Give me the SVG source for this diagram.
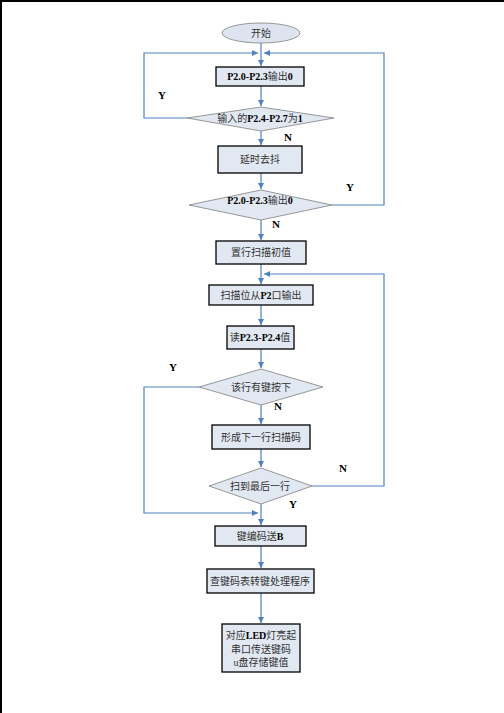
<svg xmlns="http://www.w3.org/2000/svg" width="504" height="713" viewBox="0 0 504 713">
<style>
.box{fill:#e2e8f2;stroke:#000;stroke-width:1.3}
.dia{fill:#e2e8f2;stroke:#7f7f7f;stroke-width:0.8}
.ell{fill:#dde4f0;stroke:#7f7f7f;stroke-width:0.8}
.t{font-family:"Liberation Serif","Noto Sans CJK SC",serif;font-size:10px;fill:#333;text-anchor:middle}
.b{font-weight:bold;fill:#000}
.lbl{font-family:"Liberation Serif",serif;font-size:11px;font-weight:bold;fill:#000;text-anchor:middle}
.c{fill:none;stroke:#4f81bd;stroke-width:1.2}
</style>
<defs>
<marker id="ah" markerWidth="8" markerHeight="8" refX="6" refY="3" orient="auto" markerUnits="userSpaceOnUse">
<path d="M0,0 L6,3 L0,6 Z" fill="#4f81bd"/>
</marker>
</defs>
<rect x="0" y="0" width="504" height="713" fill="#fff"/>
<path d="M1,713 V1 H504" fill="none" stroke="#000" stroke-width="2"/>
<g id="connectors">
<path class="c" d="M261,43 V66" marker-end="url(#ah)"/>
<path class="c" d="M261,86 V106" marker-end="url(#ah)"/>
<path class="c" d="M187,118 H144 V53 H258" marker-end="url(#ah)"/>
<path class="c" d="M261,131 V145" marker-end="url(#ah)"/>
<path class="c" d="M261,173 V189" marker-end="url(#ah)"/>
<path class="c" d="M332,205 H384 V53 H264" marker-end="url(#ah)"/>
<path class="c" d="M261,220 V240" marker-end="url(#ah)"/>
<path class="c" d="M261,264 V284" marker-end="url(#ah)"/>
<path class="c" d="M261,305 V325" marker-end="url(#ah)"/>
<path class="c" d="M261,349 V368" marker-end="url(#ah)"/>
<path class="c" d="M261,405 V424" marker-end="url(#ah)"/>
<path class="c" d="M261,449 V467" marker-end="url(#ah)"/>
<path class="c" d="M312,486 H384 V274 H264" marker-end="url(#ah)"/>
<path class="c" d="M199,387 H144 V513 H258" marker-end="url(#ah)"/>
<path class="c" d="M261,504 V525" marker-end="url(#ah)"/>
<path class="c" d="M261,546 V568" marker-end="url(#ah)"/>
<path class="c" d="M261,593 V623" marker-end="url(#ah)"/>
</g>
<g id="labels">
<text class="lbl" x="162" y="99">Y</text>
<text class="lbl" x="288" y="141">N</text>
<text class="lbl" x="350" y="191">Y</text>
<text class="lbl" x="276" y="228">N</text>
<text class="lbl" x="173" y="371">Y</text>
<text class="lbl" x="278" y="410">N</text>
<text class="lbl" x="343" y="472">N</text>
<text class="lbl" x="293" y="508">Y</text>
</g>
<g id="start">
<ellipse class="ell" cx="261" cy="33" rx="39" ry="10"/>
<text class="t" x="261" y="37">开始</text>
</g>
<g id="n1">
<rect class="box" x="216" y="67" width="88" height="19"/>
<text class="t" x="260" y="80"><tspan class="b">P2.0-P2.3</tspan>输出<tspan class="b">0</tspan></text>
</g>
<g id="d1">
<polygon class="dia" points="261,107 334,118 261,131 187,118"/>
<text class="t" x="260" y="122">输入的<tspan class="b">P2.4-P2.7</tspan>为<tspan class="b">1</tspan></text>
</g>
<g id="n2">
<rect class="box" x="218" y="146" width="84" height="27"/>
<text class="t" x="260" y="163">延时去抖</text>
</g>
<g id="d2">
<polygon class="dia" points="261,190 332,205 261,220 189,205"/>
<text class="t" x="260" y="204"><tspan class="b">P2.0-P2.3</tspan>输出<tspan class="b">0</tspan></text>
</g>
<g id="n3">
<rect class="box" x="216" y="241" width="90" height="23"/>
<text class="t" x="261" y="256">置行扫描初值</text>
</g>
<g id="n4">
<rect class="box" x="209" y="285" width="104" height="20"/>
<text class="t" x="261" y="299">扫描位从<tspan class="b">P2</tspan>口输出</text>
</g>
<g id="n5">
<rect class="box" x="227" y="326" width="67" height="23"/>
<text class="t" x="260" y="341">读<tspan class="b">P2.3-P2.4</tspan>值</text>
</g>
<g id="d3">
<polygon class="dia" points="261,369 323,387 261,405 199,387"/>
<text class="t" x="261" y="391">该行有键按下</text>
</g>
<g id="n6">
<rect class="box" x="212" y="425" width="98" height="24"/>
<text class="t" x="261" y="441">形成下一行扫描码</text>
</g>
<g id="d4">
<polygon class="dia" points="261,468 312,486 261,504 209,486"/>
<text class="t" x="260" y="490">扫到最后一行</text>
</g>
<g id="n7">
<rect class="box" x="215" y="526" width="91" height="20"/>
<text class="t" x="260" y="540">键编码送<tspan class="b">B</tspan></text>
</g>
<g id="n8">
<rect class="box" x="207" y="569" width="107" height="24"/>
<text class="t" x="260" y="585">查键码表转键处理程序</text>
</g>
<g id="n9">
<rect class="box" x="222" y="624" width="78" height="48"/>
<text class="t" x="261" y="639">对应<tspan class="b">LED</tspan>灯亮起</text>
<text class="t" x="261" y="653">串口传送键码</text>
<text class="t" x="261" y="666">u盘存储键值</text>
</g>
</svg>
